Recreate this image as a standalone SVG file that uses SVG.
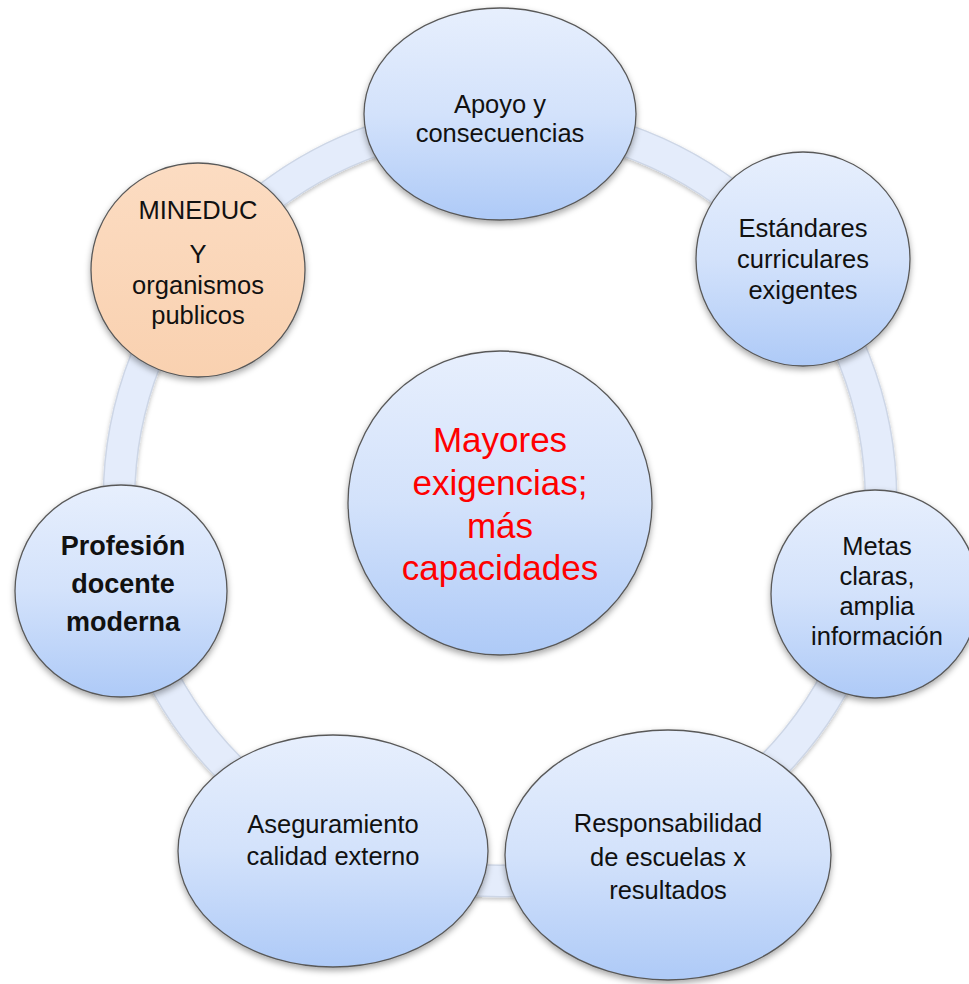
<svg xmlns="http://www.w3.org/2000/svg" width="969" height="984" viewBox="0 0 969 984">
<defs>
<linearGradient id="blueGrad" x1="0" y1="0" x2="0" y2="1">
<stop offset="0" stop-color="#e7effd"/>
<stop offset="0.5" stop-color="#d3e2fb"/>
<stop offset="1" stop-color="#aecaf7"/>
</linearGradient>
<linearGradient id="orangeGrad" x1="0" y1="0" x2="0" y2="1">
<stop offset="0" stop-color="#fcdcc2"/>
<stop offset="1" stop-color="#f9d1b0"/>
</linearGradient>
<filter id="shadow" x="-20%" y="-20%" width="140%" height="140%">
<feDropShadow dx="0" dy="3" stdDeviation="3" flood-color="#000" flood-opacity="0.35"/>
</filter>
<filter id="ringShadow" x="-10%" y="-10%" width="120%" height="120%">
<feDropShadow dx="0" dy="2" stdDeviation="2" flood-color="#000" flood-opacity="0.25"/>
</filter>
</defs>
<style>
.node { fill: url(#blueGrad); stroke: #595959; stroke-width: 1.3; filter: url(#shadow); }
.orange { fill: url(#orangeGrad); stroke: #595959; stroke-width: 1.3; filter: url(#shadow); }
.t { font-family: "Liberation Sans", Arial, sans-serif; font-size: 25.5px; fill: #111; text-anchor: middle; }
.b { font-weight: bold; font-size: 27px; }
.red { font-size: 35px; fill: #ff0000; }
</style>
<rect width="969" height="984" fill="#ffffff"/>
<g id="connectors">
<circle cx="500" cy="500" r="381" fill="none" stroke="#cdd6e6" stroke-width="33" filter="url(#ringShadow)"/>
<circle cx="500" cy="500" r="381" fill="none" stroke="#e4ecfb" stroke-width="30"/>
</g>
<g id="node-apoyo">
<ellipse class="node" cx="500" cy="114" rx="136" ry="106"/>
<text class="t" x="500" y="113">Apoyo y</text>
<text class="t" x="500" y="142">consecuencias</text>
</g>
<g id="node-estandares">
<circle class="node" cx="803" cy="259" r="107"/>
<text class="t" x="803" y="237">Estándares</text>
<text class="t" x="803" y="268">curriculares</text>
<text class="t" x="803" y="299">exigentes</text>
</g>
<g id="node-metas">
<circle class="node" cx="875" cy="594" r="104"/>
<text class="t" x="877" y="555">Metas</text>
<text class="t" x="877" y="585">claras,</text>
<text class="t" x="877" y="615">amplia</text>
<text class="t" x="877" y="645">información</text>
</g>
<g id="node-responsabilidad">
<ellipse class="node" cx="668" cy="855" rx="163" ry="125"/>
<text class="t" x="668" y="832">Responsabilidad</text>
<text class="t" x="668" y="866">de escuelas x</text>
<text class="t" x="668" y="899">resultados</text>
</g>
<g id="node-aseguramiento">
<ellipse class="node" cx="333" cy="851" rx="155" ry="116"/>
<text class="t" x="333" y="833">Aseguramiento</text>
<text class="t" x="333" y="865">calidad externo</text>
</g>
<g id="node-profesion">
<circle class="node" cx="121" cy="591" r="106"/>
<text class="t b" x="123" y="555">Profesión</text>
<text class="t b" x="123" y="593">docente</text>
<text class="t b" x="123" y="631">moderna</text>
</g>
<g id="node-mineduc">
<circle class="orange" cx="198" cy="270" r="107"/>
<text class="t" x="198" y="219">MINEDUC</text>
<text class="t" x="198" y="263">Y</text>
<text class="t" x="198" y="294">organismos</text>
<text class="t" x="198" y="324">publicos</text>
</g>
<g id="node-center">
<circle class="node" cx="500" cy="503" r="152"/>
<text class="t red" x="500" y="452">Mayores</text>
<text class="t red" x="500" y="495">exigencias;</text>
<text class="t red" x="500" y="538">más</text>
<text class="t red" x="500" y="580">capacidades</text>
</g>
</svg>
